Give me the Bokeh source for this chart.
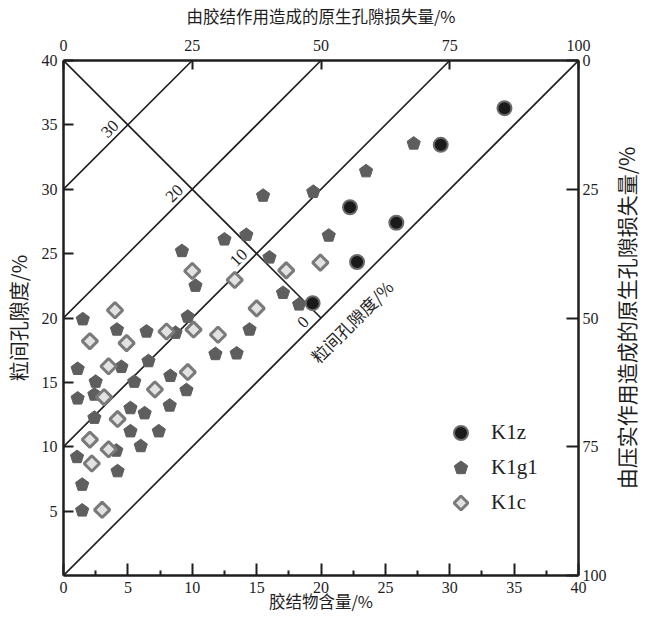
import math
from bokeh.plotting import figure
from bokeh.layouts import row
from bokeh.models import (Range1d, LinearAxis, FixedTicker, ColumnDataSource,
                          Legend, LegendItem, Label)
from bokeh.core.properties import value
from bokeh.embed import file_html
from bokeh.resources import INLINE

# ---------------- data ----------------
k1z_x = [34.25, 29.3, 22.25, 25.85, 22.8, 19.35]
k1z_y = [36.3, 33.45, 28.6, 27.4, 24.35, 21.15]

k1g1_x = [27.2, 23.5, 19.4, 15.5, 20.6, 12.5, 14.2, 9.2, 16.0, 10.25, 17.05, 18.3,
          9.65, 1.5, 4.15, 6.45, 8.7, 14.45, 11.8, 13.45, 1.1, 4.5, 6.6, 2.5, 5.5,
          8.3, 1.1, 2.4, 9.55, 5.2, 8.25, 2.4, 6.3, 5.2, 7.4, 6.0, 1.05, 4.1, 4.2,
          1.45, 1.45]
k1g1_y = [33.55, 31.4, 29.8, 29.5, 26.4, 26.1, 26.45, 25.2, 24.7, 22.5, 21.95, 21.05,
          20.1, 19.9, 19.1, 18.95, 18.85, 19.1, 17.2, 17.25, 16.05, 16.2, 16.65, 15.05,
          15.05, 15.5, 13.75, 14.05, 14.4, 13.0, 13.2, 12.25, 12.6, 11.2, 11.2, 10.05,
          9.2, 9.7, 8.1, 7.05, 5.05]

k1c_x = [19.95, 17.3, 10.0, 13.3, 15.0, 4.0, 10.1, 12.0, 8.0, 2.05, 4.9, 3.5, 9.65,
         7.1, 3.15, 4.2, 2.05, 3.5, 2.2, 3.0]
k1c_y = [24.3, 23.7, 23.65, 22.95, 20.75, 20.6, 19.1, 18.7, 18.95, 18.2, 18.05, 16.25,
         15.8, 14.45, 13.85, 12.15, 10.55, 9.8, 8.7, 5.1]

series_labels = ["K1z", "K1g1", "K1c"]

# diagram reference values
porosity_max = 40            # original porosity (%)
contour_values = [0, 10, 20, 30]   # intergranular porosity contours
bottom_ticks = [0, 5, 10, 15, 20, 25, 30, 35, 40]
bottom_minor = [2.5, 7.5, 12.5, 17.5, 22.5, 27.5, 32.5, 37.5]
left_ticks = [5, 10, 15, 20, 25, 30, 35, 40]
loss_ticks = [0, 25, 50, 75, 100]

x_title = "胶结物含量/%"
y_title = "粒间孔隙度/%"
top_title = "由胶结作用造成的原生孔隙损失量/%"
right_title = "由压实作用造成的原生孔隙损失量/%"
diag_title = "粒间孔隙度/%"

CJK = "Noto Sans CJK SC"
SERIF = "Liberation Serif"
INK = "#1e1e1e"

B_TOP, B_BOTTOM = 59, 34
FRAME = 515

p = figure(frame_width=FRAME, frame_height=FRAME,
           x_range=Range1d(0, porosity_max), y_range=Range1d(0, porosity_max),
           output_backend="svg", toolbar_location=None,
           min_border_left=55, min_border_right=32, min_border_top=B_TOP,
           min_border_bottom=B_BOTTOM)
p.xgrid.visible = False
p.ygrid.visible = False
p.outline_line_color = None
p.background_fill_color = "white"

p.extra_x_ranges = {"loss": Range1d(0, 100)}
p.extra_y_ranges = {"comp": Range1d(100, 0)}

def style_axis(ax, tick_in, minor_in=0):
    ax.axis_line_width = 2.5
    ax.axis_line_color = INK
    ax.major_tick_in = tick_in
    ax.major_tick_out = 0
    ax.major_tick_line_width = 2
    ax.major_tick_line_color = INK
    ax.minor_tick_in = minor_in
    ax.minor_tick_out = 0
    ax.minor_tick_line_width = 2
    ax.minor_tick_line_color = INK if minor_in else None
    ax.major_label_text_font = SERIF
    ax.major_label_text_font_size = "16px"
    ax.major_label_text_color = INK
    ax.axis_label_text_font = CJK
    ax.axis_label_text_font_style = "normal"
    ax.axis_label_text_color = INK

xa = p.xaxis[0]
xa.ticker = FixedTicker(ticks=bottom_ticks, minor_ticks=bottom_minor)
style_axis(xa, 12, 5)
xa.major_label_standoff = 6
xa.axis_label = x_title
xa.axis_label_text_font_size = "16.5px"
xa.axis_label_standoff = -7

ya = p.yaxis[0]
ya.ticker = FixedTicker(ticks=left_ticks)
style_axis(ya, 10)
ya.major_label_standoff = 6
ya.axis_label = y_title
ya.axis_label_text_font_size = "20px"
ya.axis_label_standoff = 6

top = LinearAxis(x_range_name="loss", ticker=FixedTicker(ticks=loss_ticks))
style_axis(top, 9)
top.major_label_standoff = 10
top.axis_label = top_title
top.axis_label_text_font_size = "16.5px"
top.axis_label_standoff = 9
p.add_layout(top, "above")

right = LinearAxis(y_range_name="comp", ticker=FixedTicker(ticks=loss_ticks))
style_axis(right, 12)
right.major_label_standoff = 4
p.add_layout(right, "right")

# ---------------- reference lines ----------------
diag = ColumnDataSource(dict(
    x0=[0 for c in contour_values],
    y0=[c for c in contour_values],
    x1=[porosity_max - c for c in contour_values],
    y1=[porosity_max for c in contour_values]))
p.segment("x0", "y0", "x1", "y1", source=diag, line_color=INK, line_width=1.6)

anti_end = porosity_max / 2
p.segment(x0=[0], y0=[porosity_max], x1=[anti_end], y1=[porosity_max - anti_end],
          line_color=INK, line_width=1.6)

lab = ColumnDataSource(dict(
    x=[(porosity_max - c) / 2 for c in contour_values],
    y=[(porosity_max + c) / 2 for c in contour_values],
    t=[str(c) for c in contour_values]))
p.text("x", "y", text="t", source=lab, angle=math.pi / 4, x_offset=-18, y_offset=4,
       text_align="center", text_baseline="middle", text_font=value(SERIF),
       text_font_size="17px", text_color=INK)

p.add_layout(Label(x=21.45, y=21.45, x_offset=12, y_offset=-22, text=diag_title,
                   angle=math.pi / 4, text_align="center", text_baseline="middle",
                   text_font=CJK, text_font_size="17px", text_color=INK))

# ---------------- points ----------------
src_g = ColumnDataSource(dict(x=k1g1_x, y=k1g1_y))
src_c = ColumnDataSource(dict(x=k1c_x, y=k1c_y))
src_z = ColumnDataSource(dict(x=k1z_x, y=k1z_y))

r_g = p.ngon(x="x", y="y", radius=0.54, n=5, source=src_g,
             fill_color="#5e5e5e", line_color="#5e5e5e", line_width=1)
r_c = p.ngon(x="x", y="y", radius=0.6, n=4, source=src_c,
             fill_color="#e2e2e2", line_color="#7a7a7a", line_width=3)
r_z = p.scatter(x="x", y="y", size=14, marker="circle", source=src_z,
                fill_color="#1a1a1a", line_color="#6a6a6a", line_width=2)

legend = Legend(items=[LegendItem(label=series_labels[0], renderers=[r_z]),
                       LegendItem(label=series_labels[1], renderers=[r_g]),
                       LegendItem(label=series_labels[2], renderers=[r_c])],
                location=(380, 55), glyph_width=35, glyph_height=35, spacing=0,
                label_standoff=13, padding=0, margin=0, border_line_color=None,
                background_fill_alpha=0, label_text_font=SERIF,
                label_text_font_size="21px", label_text_color=INK)
p.add_layout(legend)

# ---------------- right-hand title strip (reads bottom to top) ----------------
q = figure(frame_width=30, frame_height=FRAME, x_range=Range1d(0, 1),
           y_range=Range1d(0, porosity_max), output_backend="svg",
           toolbar_location=None, x_axis_type=None, y_axis_type=None,
           min_border_left=0, min_border_right=0, min_border_top=B_TOP,
           min_border_bottom=B_BOTTOM)
q.xgrid.visible = False
q.ygrid.visible = False
q.outline_line_color = None
q.text(x=[0.5], y=[porosity_max / 2], text=[right_title], angle=math.pi / 2,
       text_align="center", text_baseline="middle", text_font=value(CJK),
       text_font_size="21px", text_color=INK)

layout = row(p, q, spacing=0)
open("out.html", "w").write(file_html(layout, INLINE))
